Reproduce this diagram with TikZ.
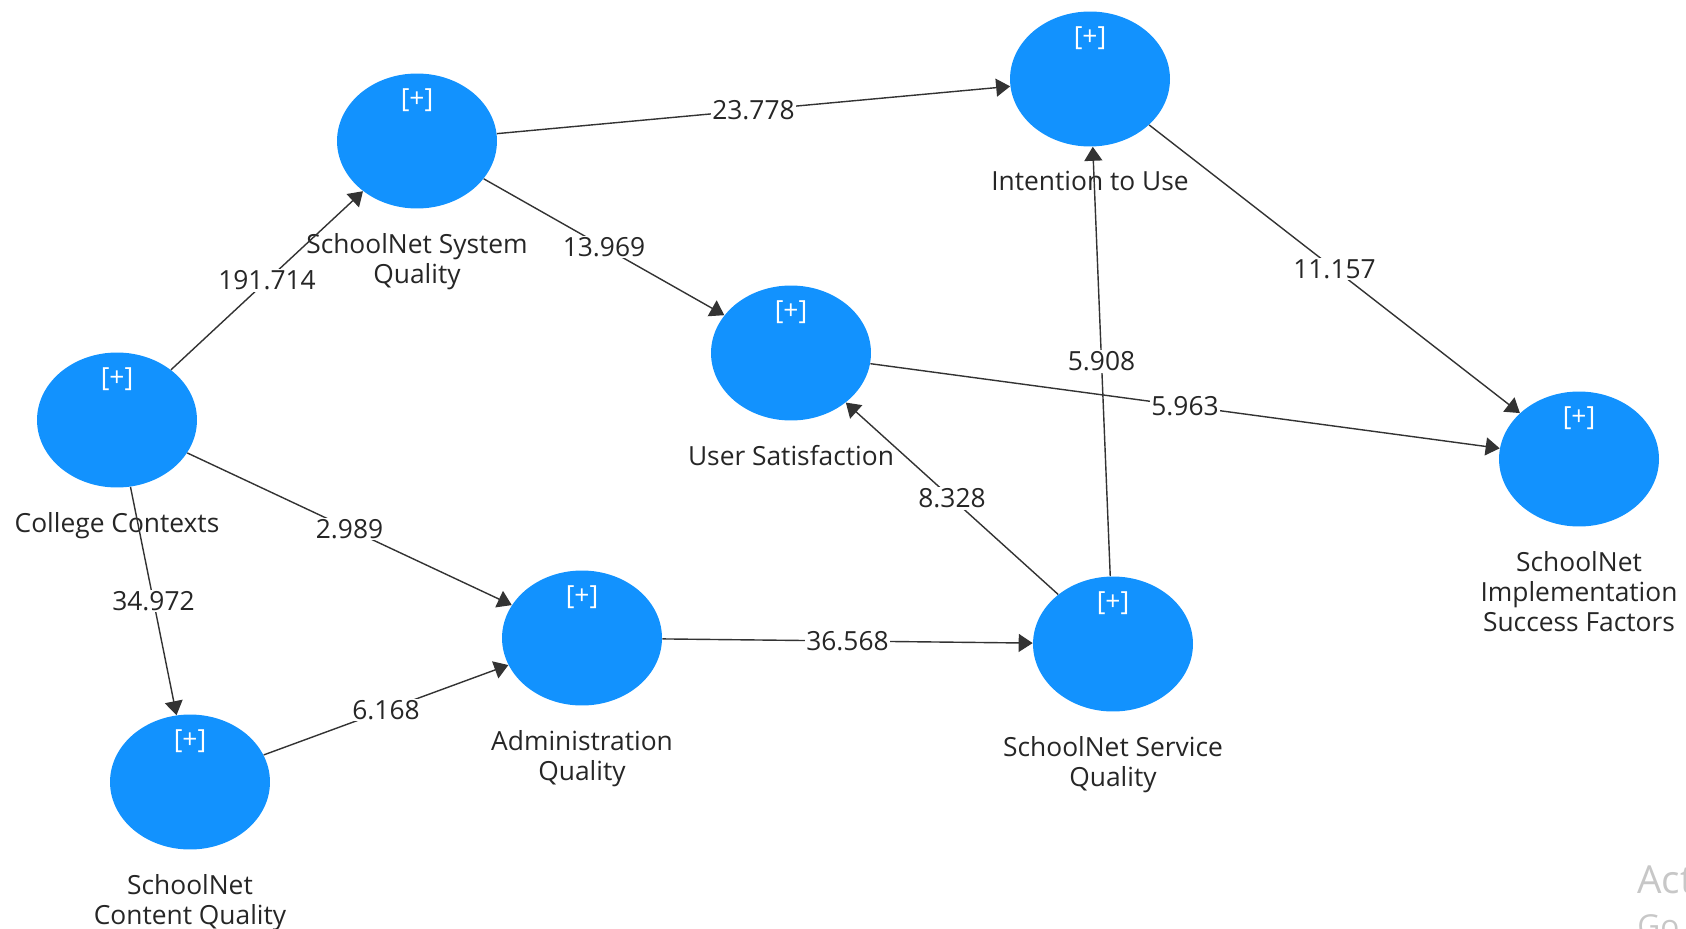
\documentclass[tikz,border=0pt]{standalone}
\usepackage{fontspec}
\setmainfont{Open Sans}
\usetikzlibrary{shapes.geometric,arrows.meta,positioning}
\definecolor{nodeblue}{RGB}{18,146,254}
\begin{document}
\begin{tikzpicture}[x=0.02cm, y=-0.02cm, font=\fontsize{15}{17}\selectfont,
    construct/.style ={ellipse, fill=nodeblue, minimum width=3.2cm, minimum height=2.7cm,
      inner sep=0pt, text=white, text height=0pt, text depth=1.36cm},
    title/.style ={align=center, text=black!85, inner sep=1pt},
    link/.style ={draw=black!80, line width=0.8pt, -{Triangle[length=0.28cm, width=0.36cm]}},
    weight/.style ={fill=white, inner sep=1pt, text=black!85},
    watermark/.style ={anchor=base west, text=black!22, inner sep=0pt}]
   \useasboundingbox (0,0) rectangle (1686,929);

   \node[construct] (CC) at (117,420)  {[+]};
   \node[construct] (SQ) at (417,141)  {[+]};
   \node[construct] (IU) at (1090,79)  {[+]};
   \node[construct] (US) at (791,353)  {[+]};
   \node[construct] (AQ) at (582,638)  {[+]};
   \node[construct] (SV) at (1113,644) {[+]};
   \node[construct] (IF) at (1579,459) {[+]};
   \node[construct] (CQ) at (190,782)  {[+]};

   \node[title] (CCt) [below=0.45cm of CC] {College Contexts};
   \node[title] (SQt) [below=0.45cm of SQ] {SchoolNet System\\Quality};
   \node[title] (IUt) [below=0.45cm of IU] {Intention to Use};
   \node[title] (USt) [below=0.45cm of US] {User Satisfaction};
   \node[title] (AQt) [below=0.45cm of AQ] {Administration\\Quality};
   \node[title] (SVt) [below=0.45cm of SV] {SchoolNet Service\\Quality};
   \node[title] (IFt) [below=0.45cm of IF] {SchoolNet\\Implementation\\Success Factors};
   \node[title] (CQt) [below=0.45cm of CQ] {SchoolNet\\Content Quality};

   \draw[link] (CC) to node[weight] (w1) {191.714} (SQ);
   \draw[link] (CC) to node[weight] (w2) {2.989} (AQ);
   \draw[link] (CC) to node[weight] (w3) {34.972} (CQ);
   \draw[link] (CQ) to node[weight] (w4) {6.168} (AQ);
   \draw[link] (AQ) to node[weight] (w5) {36.568} (SV);
   \draw[link] (SV) to node[weight] (w6) {8.328} (US);
   \draw[link] (SV) to node[weight] (w7) {5.908} (IU);
   \draw[link] (SQ) to node[weight] (w8) {23.778} (IU);
   \draw[link] (SQ) to node[weight] (w9) {13.969} (US);
   \draw[link] (IU) to node[weight] (w10) {11.157} (IF);
   \draw[link] (US) to node[weight] (w11) {5.963} (IF);

   \node[watermark, font=\fontsize{22}{26}\selectfont] (act1) at (1637,893) {Activate Windows};
   \node[watermark, font=\fontsize{18}{22}\selectfont] (act2) at (1637,937) {Go to Settings to activate Windows.};
 \end{tikzpicture}
\end{document}
